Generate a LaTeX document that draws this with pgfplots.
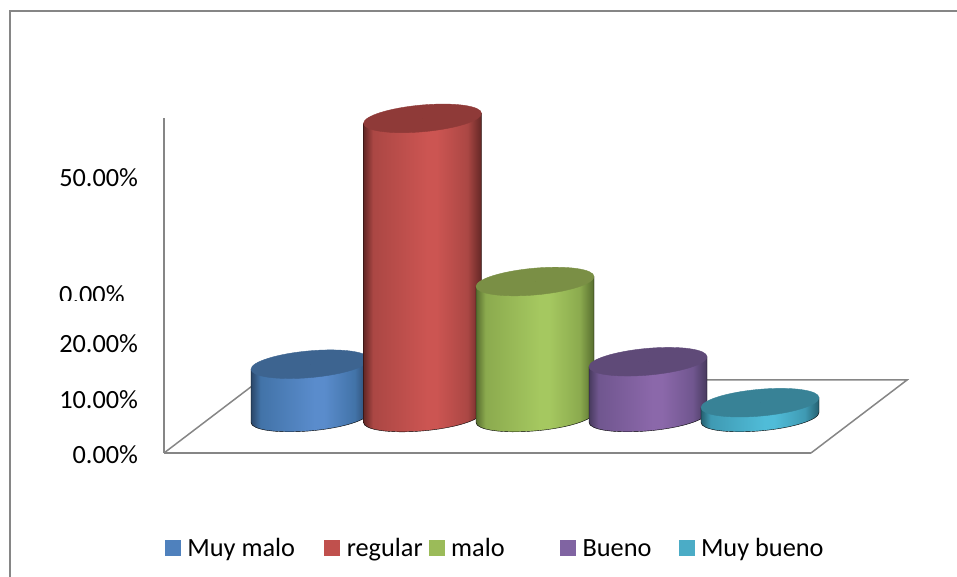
\documentclass[border=0pt]{standalone}
\usepackage{pgfplots}
\usepackage{fontspec}
\setmainfont{Carlito}
\pgfplotsset{compat=1.18}
\newcommand\mkcyl[5]{%
  \definecolor{#1D}{HTML}{#2}\definecolor{#1M}{HTML}{#3}\definecolor{#1P}{HTML}{#4}\definecolor{#1T}{HTML}{#5}%
  \pgfdeclarehorizontalshading{cyl#1}{100bp}{color(0bp)=(#1D); color(25bp)=(#1D); color(29bp)=(#1M); color(52bp)=(#1P); color(56bp)=(#1P); color(69bp)=(#1M); color(75bp)=(#1D); color(100bp)=(#1D)}}
\mkcyl{blue}{2B4668}{4273A8}{5A8CCC}{3D6490}
\mkcyl{red}{632725}{AB4744}{CC5552}{8F3A38}
\mkcyl{green}{576D2F}{8BAA4E}{A5C860}{7A8F45}
\mkcyl{purple}{483A5E}{70568F}{8B68AA}{5F4A78}
\mkcyl{teal}{256070}{3F9AB3}{50BCD8}{388296}
\definecolor{lblue}{HTML}{4F81BD}\definecolor{lred}{HTML}{C0504D}\definecolor{lgreen}{HTML}{9BBB59}\definecolor{lpurple}{HTML}{8064A2}\definecolor{lteal}{HTML}{4BACC6}
\definecolor{gridg}{HTML}{868686}
\pgfplotsset{
  cyl/.style n args={2}{
    scatter, only marks, mark=*, mark size=0pt,
    mark options={draw=none,fill=none},
    visualization depends on={rawy \as \rawv},
    scatter/@pre marker code/.code={%
      \pgfmathsetmacro\hh{\rawv*5.55/13.4}%
      \begin{scope}[x={(59pt,5pt)},y={(0pt,13.4pt)}]
        \shade[shading=cyl#1] (-1,0) -- (-1,-\hh) arc[start angle=180,end angle=360,radius=1] -- (1,0) -- cycle;
        \fill[#1T] (0,0) circle[radius=1];
      \end{scope}
      \begin{scope}},
    scatter/@post marker code/.code={\end{scope}},
    legend image code/.code={\fill[#2] (0pt,0.5pt) rectangle (15pt,15.5pt);},
  }
}
\begin{document}
\fontsize{26.3}{30}\selectfont
\begin{tikzpicture}[x=1pt,y=1pt]
\useasboundingbox (0,0) rectangle (957,577);
% chart frame
\draw[gridg,line width=2pt] (10,0) -- (10,566) -- (957,566);
% floor
\draw[gridg,line width=1.5pt] (164,124) -- (260,197) -- (907,197) -- (811,124);
% clipped tick label
\begin{scope}
\clip (40,276) rectangle (150,300);
\node[anchor=base west,inner sep=0pt,font=\fontsize{26.3}{30}\selectfont] at (59,273) {0.00\%};
\end{scope}
% value axis
\begin{axis}[
  at={(164pt,124pt)},anchor=south west,scale only axis,
  width=647pt,height=335pt,
  xmin=0,xmax=1,ymin=0,ymax=60.36,
  axis x line=bottom,axis y line=left,
  axis line style={gridg,line width=1.5pt,-},
  xtick=\empty,
  ytick={0,10,20,50},
  major tick length=0pt,
  yticklabel={\pgfmathprintnumber{\tick}\%},
  /pgf/number format/.cd,fixed,fixed zerofill,precision=2,assume math mode=true,
  /pgfplots/.cd,
  yticklabel style={font=\fontsize{26.3}{30}\selectfont,xshift=-17pt,yshift=-2pt},
]
\end{axis}
% cylinders
\begin{axis}[
  at={(0pt,0pt)},anchor=south west,scale only axis,
  width=957pt,height=577pt,
  xmin=0,xmax=957,ymin=-28.74,ymax=75.23,
  axis lines=none,clip=false,
  legend columns=5,
  legend cell align=left,
  legend style={at={(axis cs:165,-23.7)},anchor=west,draw=none,fill=none,inner sep=0pt,outer sep=0pt,
    font=\fontsize{26.3}{30}\selectfont,
    nodes={inner sep=0pt,anchor=base west},
    /tikz/every odd column/.append style={column sep=7pt}},
]
\addplot[cyl={blue}{lblue}] coordinates {(310,9.6)};
\addlegendentry{\makebox[137pt][l]{Muy malo}}
\addplot[cyl={red}{lred}] coordinates {(422.5,53.9)};
\addlegendentry{\makebox[82pt][l]{regular}}
\addplot[cyl={green}{lgreen}] coordinates {(535,24.5)};
\addlegendentry{\makebox[109pt][l]{malo}}
\addplot[cyl={purple}{lpurple}] coordinates {(648,10.05)};
\addlegendentry{\makebox[96pt][l]{Bueno}}
\addplot[cyl={teal}{lteal}] coordinates {(760,2.67)};
\addlegendentry{Muy bueno}
\end{axis}
\end{tikzpicture}
\end{document}
